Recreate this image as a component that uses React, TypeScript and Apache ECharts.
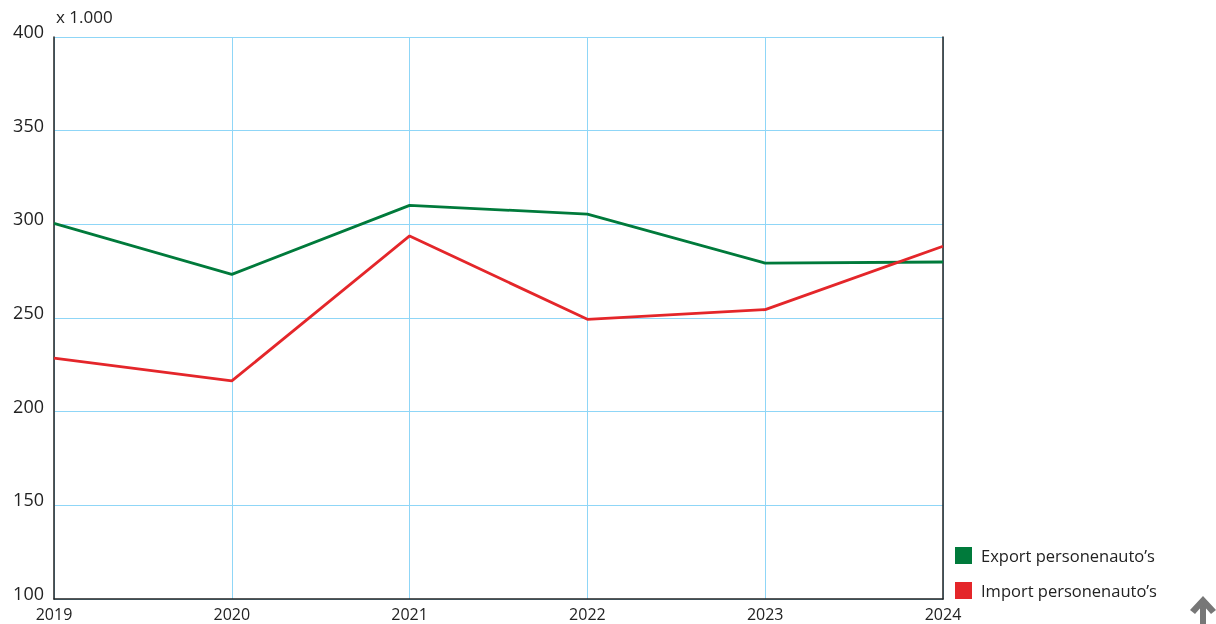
import React, { useEffect, useRef } from "react";
import * as echarts from "echarts";

const years = ["2019", "2020", "2021", "2022", "2023", "2024"];
const exportValues = [300.5, 273.3, 310.1, 305.5, 279.3, 279.9];
const importValues = [228.6, 216.4, 293.8, 249.3, 254.5, 288.3];
const seriesNames = ["Export personenauto\u2019s", "Import personenauto\u2019s"];
const unitLabel = "x 1.000";

const FONT = "'Open Sans', 'Noto Sans', sans-serif";

export default function App() {
  const ref = useRef<HTMLDivElement>(null);
  useEffect(() => {
    if (!ref.current) return;
    const chart = echarts.init(ref.current, undefined, { renderer: "svg" });
    chart.setOption({
      animation: false,
      textStyle: { fontFamily: FONT },
      grid: { left: 54, right: 273, top: 37, bottom: 25, containLabel: false },
      legend: {
        orient: "vertical",
        left: 955,
        top: 547,
        padding: 0,
        itemWidth: 17,
        itemHeight: 17,
        itemGap: 18,
        icon: "rect",
        textStyle: { fontSize: 16.5, color: "#222", fontFamily: FONT, padding: [0, 0, 0, 4] },
        data: seriesNames,
      },
      xAxis: {
        type: "category",
        data: years,
        boundaryGap: false,
        axisLine: { show: true, lineStyle: { color: "#222", width: 1.5 } },
        axisTick: { show: false },
        axisLabel: { color: "#222", fontSize: 16, margin: 7, lineHeight: 16, fontFamily: FONT },
        splitLine: { show: true, lineStyle: { color: "#8fd6f7", width: 1 } },
      },
      yAxis: [
        {
          type: "value",
          min: 100,
          max: 400,
          interval: 50,
          axisLine: { show: true, lineStyle: { color: "#222", width: 1.5 } },
          axisTick: { show: false },
          axisLabel: {
            color: "#222",
            fontSize: 18,
            margin: 10,
            fontFamily: FONT,
            verticalAlign: "bottom",
            lineHeight: 12,
          },
          splitLine: { show: true, lineStyle: { color: "#8fd6f7", width: 1 } },
        },
        {
          type: "value",
          min: 100,
          max: 400,
          interval: 50,
          position: "right",
          axisLine: { show: true, lineStyle: { color: "#222", width: 1.5 } },
          axisTick: { show: false },
          axisLabel: { show: false },
          splitLine: { show: false },
        },
      ],
      series: [
        {
          name: seriesNames[0],
          type: "line",
          data: exportValues,
          showSymbol: false,
          symbol: "none",
          lineStyle: { color: "#007a3b", width: 2.8 },
          itemStyle: { color: "#007a3b" },
        },
        {
          name: seriesNames[1],
          type: "line",
          data: importValues,
          showSymbol: false,
          symbol: "none",
          lineStyle: { color: "#e4262a", width: 2.8 },
          itemStyle: { color: "#e4262a" },
        },
      ],
      graphic: [
        {
          type: "text",
          left: 56,
          top: 8,
          style: { text: unitLabel, fontSize: 17, fill: "#222", fontFamily: FONT },
        },
        {
          type: "polyline",
          shape: { points: [[1203, 624], [1203, 603]] },
          style: { stroke: "#777", lineWidth: 6, fill: "none" },
        },
        {
          type: "polygon",
          shape: { points: [[1190, 610], [1203, 596], [1216, 610], [1211, 614], [1203, 605], [1195, 614]] },
          style: { fill: "#777" },
        },
      ],
    });
    return () => chart.dispose();
  }, []);
  return <div ref={ref} style={{ width: 1216, height: 624, position: "fixed", left: 0, top: 0 }} />;
}
